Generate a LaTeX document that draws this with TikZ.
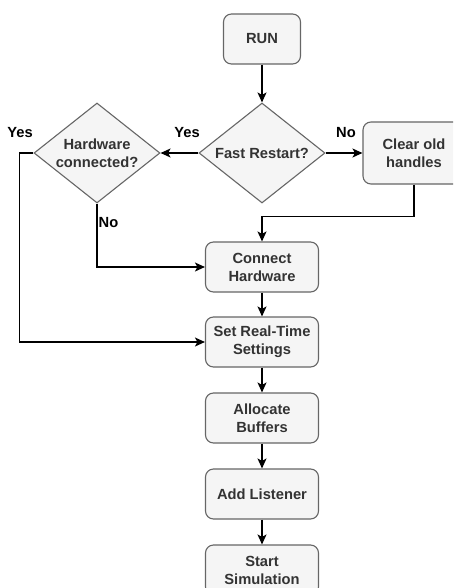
\documentclass[tikz,border=0pt]{standalone}
\usepackage{fontspec}
\setmainfont{Liberation Sans}
\usetikzlibrary{arrows.meta,positioning,shapes}
\definecolor{boxfill}{HTML}{F5F5F5}
\definecolor{boxline}{HTML}{666666}
\definecolor{boxtext}{HTML}{333333}

\begin{document}
\begin{tikzpicture}[x=1pt,y=1pt,>={Stealth[length=10pt,width=9pt,inset=2.5pt]},
                    line width=1.3pt,
                    font=\fontsize{14.7}{18}\selectfont\bfseries,
                    block/.style={rectangle,rounded corners=8pt,draw=boxline,fill=boxfill,
                                  text=boxtext,line width=1.1pt,align=center,
                                  minimum width=113pt,minimum height=50pt,inner sep=0pt},
                    decision/.style={diamond,draw=boxline,fill=boxfill,text=boxtext,
                                  line width=1.1pt,align=center,inner sep=0pt,
                                  shape aspect=1.27,minimum width=126pt,minimum height=100pt},
                    lbl/.style={text=black,inner sep=0pt}]

        \useasboundingbox (0,0) rectangle (453,-588);
        \clip (0,0) rectangle (453,-588);

        \node[block,minimum width=77pt] (run) at (262,-39) {RUN};
        \node[decision] (fast) [below of=run,node distance=114pt] {Fast Restart?};
        \node[decision] (hw) [left of=fast,node distance=165pt] {Hardware\\connected?};
        \node[block,minimum width=102pt,minimum height=62pt] (clear)
              [right of=fast,node distance=152pt] {Clear old\\handles};

        \node[block] (conn)  [below of=fast,node distance=114pt] {Connect\\Hardware};
        \node[block] (rts)   [below of=conn,node distance=75pt] {Set Real-Time\\Settings};
        \node[block] (alloc) [below of=rts,node distance=76pt] {Allocate\\Buffers};
        \node[block] (add)   [below of=alloc,node distance=76pt] {Add Listener};
        \node[block] (start) [below of=add,node distance=76pt] {Start\\Simulation};

        \draw[->] (run) -- (fast);
        \draw[->] (fast.west) -- node[lbl,pos=0,anchor=east,xshift=2pt,yshift=20pt] {Yes} (hw.east);
        \draw[->] (fast.east) -- node[lbl,pos=0,anchor=west,xshift=10pt,yshift=20pt] {No} (clear.west);
        \draw[->] (clear.south) -- ++(0,-32) -| (conn.north);
        \draw[->] (hw.south) |- node[lbl,pos=0,anchor=west,xshift=1pt,yshift=-19pt] {No} (conn.west);
        \draw[->] (hw.west) -- node[lbl,pos=0,anchor=east,yshift=20pt] {Yes} ++(-14,0) |- (rts.west);

        \draw[->] (conn) -- (rts);
        \draw[->] (rts) -- (alloc);
        \draw[->] (alloc) -- (add);
        \draw[->] (add) -- (start);
\end{tikzpicture}
\end{document}
